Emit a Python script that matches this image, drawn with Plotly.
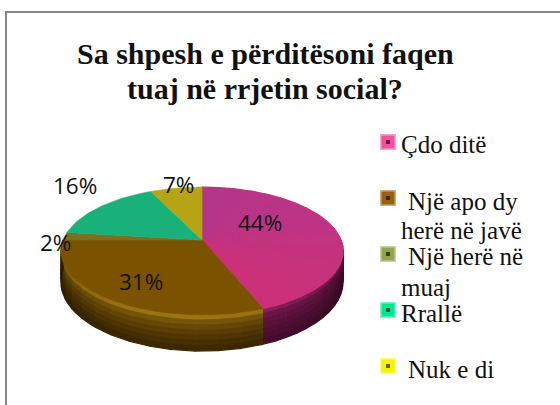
import math
import plotly.graph_objects as go

categories = ["Çdo ditë", "Një apo dy herë në javë", "Një herë në muaj", "Rrallë", "Nuk e di"]
values = [44, 31, 2, 16, 7]
top_start = ["#B4368A", "#7B5200", "#7A7020", "#1AB07A", "#B5A514"]
top_end = ["#CC3079", "#7B5200", "#7A7020", "#1AB07A", "#B5A514"]
wall_rim = ["#8A1F5C", "#9C7410", "#6F8535", "#109060", "#9A8A10"]
wall_low = ["#4A0C30", "#3E2800", "#4A5520", "#0A5A3C", "#5A5008"]
swatch_colors = ["#F2509F", "#98600F", "#8FA850", "#00E890", "#F4F400"]
title_lines = ["Sa shpesh e përditësoni faqen", "tuaj në rrjetin social?"]
legend_lines = [
    ("Çdo ditë", 401, 152), ("Një apo dy", 408, 209), ("herë në javë", 401, 238),
    ("Një herë në", 408, 264), ("muaj", 401, 295), ("Rrallë", 401, 321), ("Nuk e di", 408, 377),
]
swatch_y = [142, 198, 254, 310, 366]
label_pos = [(260, 222), (141, 281), (55, 242), (75, 185), (178, 184)]

CX, CY, R, H, K, DEPTH = 202, 240, 139, 62, 0.172, 30
SWATCH_X = 388


def project(theta, radius=1.0, drop=0.0):
    u = math.sin(theta) * radius
    v = math.cos(theta) * radius
    d = 1 + K * v
    return CX + R * u / d, CY - H * v / d + drop / d


def mix(a, b, t):
    ca = [int(a[i:i + 2], 16) for i in (1, 3, 5)]
    cb = [int(b[i:i + 2], 16) for i in (1, 3, 5)]
    return "#%02X%02X%02X" % tuple(round(x + (y - x) * t) for x, y in zip(ca, cb))


fig = go.Figure()


def poly(xs, ys, color, width=1.2):
    fig.add_trace(go.Scatter(x=xs, y=ys, mode="lines", fill="toself", fillcolor=color,
                             line=dict(color=color, width=width), hoverinfo="skip", showlegend=False))


total = sum(values)
edges = [0.0]
for val in values:
    edges.append(edges[-1] + val / total * 2 * math.pi)

# side wall, front half only, shaded down the wall and towards its far ends
BANDS, SEGS = 7, 14
for i in range(len(values)):
    lo, hi = max(edges[i], math.pi / 2), min(edges[i + 1], 3 * math.pi / 2)
    if hi <= lo:
        continue
    for s in range(SEGS):
        t0 = lo + (hi - lo) * s / SEGS
        t1 = lo + (hi - lo) * (s + 1) / SEGS
        steps = [t0 + (t1 - t0) * q / 3 for q in range(4)]
        mid = (t0 + t1) / 2
        side = min(1.0, abs(mid - math.radians(185)) / math.radians(85))
        for b in range(BANDS):
            d0, d1 = DEPTH * b / BANDS, DEPTH * (b + 1) / BANDS
            p0 = [project(t, 1, d0) for t in steps]
            p1 = [project(t, 1, d1) for t in steps][::-1]
            shade = mix(wall_rim[i], wall_low[i], (b / (BANDS - 1)) ** 0.5)
            shade = mix(shade, "#000000", 0.4 * side ** 2)
            poly([p[0] for p in p0 + p1], [p[1] for p in p0 + p1], shade)

# top face: one wedge per slice, thin wedges only where the colour drifts across it
for i in range(len(values)):
    a0, a1 = edges[i], edges[i + 1]
    n = 1 if top_start[i] == top_end[i] else 20
    for w in range(n):
        t0 = a0 + (a1 - a0) * w / n
        t1 = a0 + (a1 - a0) * (w + 1) / n
        m = 30 if n == 1 else 4
        pts = [project(t0 + (t1 - t0) * s / m) for s in range(m + 1)]
        xs = [CX] + [p[0] for p in pts] + [CX]
        ys = [CY] + [p[1] for p in pts] + [CY]
        poly(xs, ys, mix(top_start[i], top_end[i], w / max(1, n - 1)), 0.6 if n == 1 else 1.2)

# legend swatches
for y, c in zip(swatch_y, swatch_colors):
    fig.add_trace(go.Scatter(x=[SWATCH_X], y=[y], mode="markers", hoverinfo="skip", showlegend=False,
                             marker=dict(symbol="square", size=16, color=mix(c, "#FFFFFF", 0.5), line=dict(width=0))))
    fig.add_trace(go.Scatter(x=[SWATCH_X], y=[y], mode="markers", hoverinfo="skip", showlegend=False,
                             marker=dict(symbol="square", size=13, color=c, line=dict(width=0))))
    fig.add_trace(go.Scatter(x=[SWATCH_X], y=[y], mode="markers", hoverinfo="skip", showlegend=False,
                             marker=dict(symbol="square", size=4, color=mix(c, "#000000", 0.6), line=dict(width=0))))

ann = []
for val, (x, y) in zip(values, label_pos):
    ann.append(dict(x=x, y=y, text=f"{val}%", showarrow=False, xanchor="center", yanchor="middle",
                    font=dict(family="Open Sans", size=22.5, color="#111111")))
for text, x, base in legend_lines:
    ann.append(dict(x=x, y=base + 8, text=text, showarrow=False, xanchor="left", yanchor="bottom",
                    xshift=-2, font=dict(family="Liberation Serif", size=25, color="#111111")))
for text, y in zip(title_lines, (53, 88)):
    ann.append(dict(x=265, y=y, text=f"<b>{text}</b>", showarrow=False, xanchor="center", yanchor="middle",
                    font=dict(family="Liberation Serif", size=30, color="#111111")))

fig.update_layout(
    width=560, height=405, margin=dict(l=0, r=0, t=0, b=0),
    paper_bgcolor="white", plot_bgcolor="white", showlegend=False,
    xaxis=dict(range=[0, 560], visible=False, fixedrange=True),
    yaxis=dict(range=[405, 0], visible=False, fixedrange=True),
    annotations=ann,
    shapes=[dict(type="path", path="M 561 12 L 6 12 L 6 406", line=dict(color="#868686", width=2))],
)
fig.write_html("out.html", config={"displayModeBar": False},
               post_script="document.body.style.margin='0';document.body.style.overflow='hidden';")
